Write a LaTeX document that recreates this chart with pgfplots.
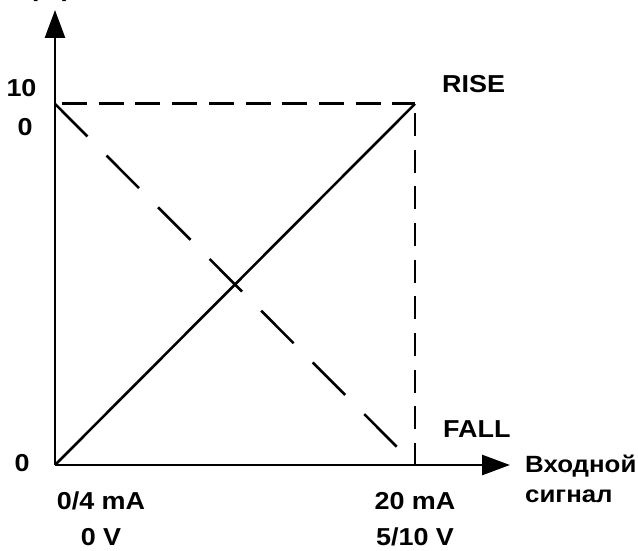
\documentclass[border=0pt]{standalone}
\usepackage{fontspec}
\setmainfont{Liberation Sans}[FakeStretch=1.1]
\usepackage{pgfplots}
\pgfplotsset{compat=1.18}
\usetikzlibrary{arrows.meta}
\begin{document}
\begin{tikzpicture}[every node/.style={font=\fontsize{24.5}{30}\selectfont\bfseries, inner sep=0pt}]
\begin{axis}[
  at={(0,0)}, anchor=south west,
  scale only axis, width=455pt, height=455pt,
  xmin=0, xmax=1.264, ymin=0, ymax=126,
  axis lines=left,
  axis line style={line width=2.8pt, -{Triangle[length=28pt,width=20pt]}},
  xtick=\empty, ytick=\empty,
  clip=false,
]
\addplot[black, line width=2.6pt] coordinates {(0,0) (1,100)};
\addplot[black, line width=2.6pt, dash pattern=on 46pt off 27pt] coordinates {(0,100) (1,0)};
\addplot[black, line width=2.8pt, dash pattern=on 25pt off 11.7pt, dash phase=29.7pt] coordinates {(0,100) (1,100)};
\addplot[black, line width=2.8pt, dash pattern=on 23pt off 13.7pt, dash phase=27.7pt] coordinates {(1,100) (1,0)};
\end{axis}
\node[anchor=base] at (-5pt,468pt) {(\%)};
\node[anchor=base] at (-33.5pt,368pt) {10};
\node[anchor=base] at (-30pt,330pt) {0};
\node[anchor=base] at (-33pt,-6pt) {0};
\node[anchor=base west] at (387pt,373pt) {RISE};
\node[anchor=base west] at (388pt,28pt) {FALL};
\node[anchor=base west, font=\fontsize{23.5}{30}\selectfont\bfseries] at (470pt,-7pt) {Входной};
\node[anchor=base west, font=\fontsize{23.5}{30}\selectfont\bfseries] at (470pt,-37pt) {сигнал};
\node[anchor=base] at (46pt,-44pt) {0/4 mA};
\node[anchor=base] at (46pt,-80pt) {0 V};
\node[anchor=base] at (360pt,-44pt) {20 mA};
\node[anchor=base] at (360pt,-80pt) {5/10 V};
\pgfresetboundingbox
\path[use as bounding box] (-55pt,-85pt) rectangle (583pt,465pt);
\end{tikzpicture}
\end{document}
